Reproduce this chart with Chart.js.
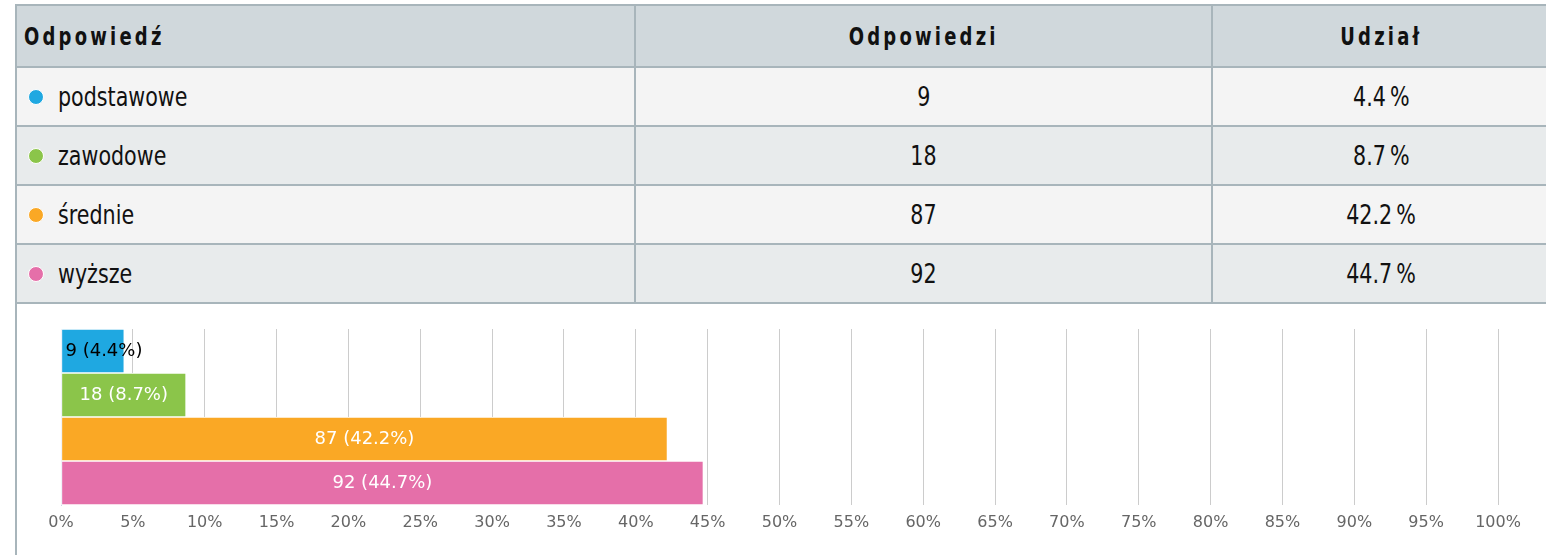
<!DOCTYPE html>
<html>
<head>
<meta charset="utf-8">
<script src="https://cdn.jsdelivr.net/npm/chart.js@4"></script>
<style>
  html, body { margin: 0; padding: 0; background: #fff; overflow: hidden; }
  body { width: 1546px; height: 555px; position: relative; }
  #frame { position: absolute; left: 15px; top: 4px; width: 1600px; height: 600px; border-left: 2px solid #a8b5bb; }
  table { position: absolute; left: 15px; top: 4px; width: 1535px; border-collapse: collapse; table-layout: fixed;
          font-family: "DejaVu Sans Condensed", "DejaVu Sans", sans-serif; font-stretch: condensed; color: #111; }
  td, th { border: 2px solid #a8b5bb; padding: 0; white-space: nowrap; }
  th { height: 60px; background: #d0d8dc; font-size: 25px; font-weight: bold; letter-spacing: 4px; }
  th.first { text-align: left; padding-left: 7px; }
  td { height: 57px; font-size: 27px; text-align: center; }
  td.first { text-align: left; padding-left: 11px; }
  tr.odd td { background: #f4f4f4; }
  tr.even td { background: #e8ebec; }
  .sq { display: inline-block; transform: scaleX(0.85); transform-origin: center; }
  th .sq { transform: scaleX(0.8); }
  .first .sq { transform-origin: left center; }
  .dot { display: inline-block; width: 14px; height: 14px; border-radius: 50%; border: 1px solid #fff; vertical-align: middle;
         margin-right: 14px; position: relative; top: -2px; }
  #chartBox { position: absolute; left: 17px; top: 304px; width: 1529px; height: 251px; }
</style>
</head>
<body>
<div id="frame"></div>
<table id="tbl">
  <colgroup><col style="width:619px"><col style="width:577px"><col style="width:339px"></colgroup>
  <thead><tr><th class="first"><span class="sq">Odpowiedź</span></th><th><span class="sq">Odpowiedzi</span></th><th><span class="sq">Udział</span></th></tr></thead>
  <tbody id="rows"></tbody>
</table>
<div id="chartBox"><canvas id="answerChart"></canvas></div>
<script>
const categories = ['podstawowe', 'zawodowe', 'średnie', 'wyższe'];
const counts = [9, 18, 87, 92];
const shares = [4.4, 8.7, 42.2, 44.7];
const colors = ['#1fa8e1', '#8bc54a', '#faa825', '#e56fa9'];
const tickStep = 5;

const rows = document.getElementById('rows');
categories.forEach(function(cat, i) {
  const tr = document.createElement('tr');
  tr.className = i % 2 === 0 ? 'odd' : 'even';
  tr.innerHTML = `<td class="first"><span class="dot" style="background:${colors[i]}"></span><span class="sq">${cat}</span></td>` +
    `<td><span class="sq">${counts[i]}</span></td><td><span class="sq">${shares[i].toFixed(1)}&#8201;%</span></td>`;
  rows.appendChild(tr);
});

// value labels: centred white when they fit, otherwise left-aligned black
const barLabels = {
  id: 'barLabels',
  afterDatasetsDraw(chart) {
    const ctx = chart.ctx;
    const meta = chart.getDatasetMeta(0);
    ctx.save();
    ctx.font = '18px "DejaVu Sans", sans-serif';
    ctx.textBaseline = 'middle';
    meta.data.forEach(function(bar, i) {
      const p = bar.getProps(['x', 'y', 'base'], true);
      const txt = `${counts[i]} (${shares[i]}%)`;
      const w = ctx.measureText(txt).width;
      if (w + 8 < p.x - p.base) {
        ctx.fillStyle = '#fff';
        ctx.textAlign = 'center';
        ctx.fillText(txt, (p.x + p.base) / 2, p.y);
      } else {
        ctx.fillStyle = '#000';
        ctx.textAlign = 'left';
        ctx.fillText(txt, p.base + 4, p.y);
      }
    });
    ctx.restore();
  }
};

document.addEventListener('DOMContentLoaded', function() {
  const chartCanvas = document.getElementById('answerChart');
  if (chartCanvas && typeof Chart !== 'undefined') {
    new Chart(chartCanvas.getContext('2d'), {
      type: 'bar',
      data: {
        labels: categories,
        datasets: [{
          data: shares,
          backgroundColor: colors,
          borderColor: '#fff',
          borderWidth: 1,
          borderSkipped: false,
          barPercentage: 1,
          categoryPercentage: 1
        }]
      },
      options: {
        indexAxis: 'y',
        responsive: true,
        maintainAspectRatio: false,
        animation: false,
        layout: { padding: { left: 0, right: 48, top: 25, bottom: 0 } },
        plugins: { legend: { display: false }, tooltip: { enabled: false } },
        scales: {
          x: {
            min: 0,
            max: 100,
            afterFit: function(s) { s.height = 50; },
            ticks: {
              stepSize: tickStep,
              padding: 8,
              color: '#666',
              font: { family: 'DejaVu Sans', size: 16 },
              callback: function(v) { return v + '%'; }
            },
            grid: { color: '#cccccc', lineWidth: 1, drawTicks: false },
            border: { display: false }
          },
          y: {
            afterFit: function(s) { s.width = 44; },
            ticks: { display: false },
            grid: { display: false },
            border: { color: '#ccd6eb', width: 1 }
          }
        }
      },
      plugins: [barLabels]
    });
  }
});
</script>
</body>
</html>
